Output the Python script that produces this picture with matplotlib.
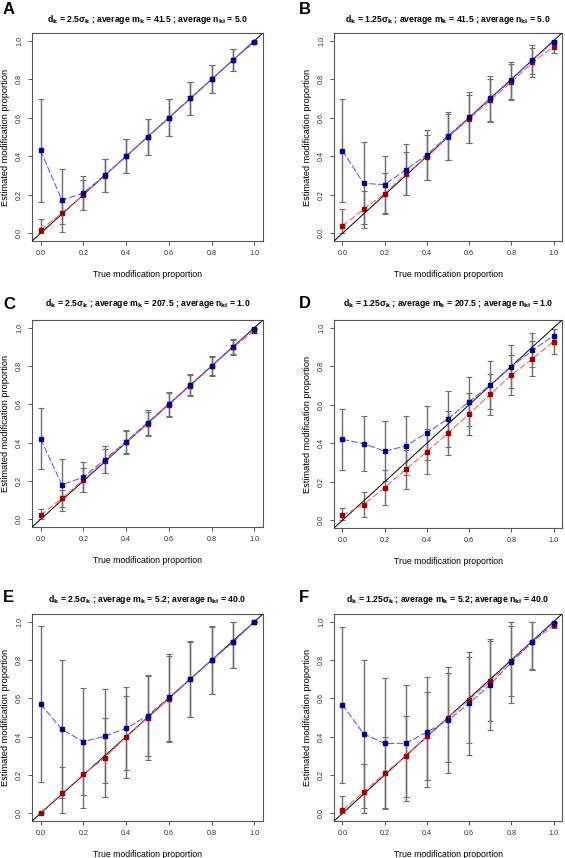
import matplotlib
matplotlib.use("Agg")
import matplotlib.pyplot as plt
import numpy as np

plt.rcParams['font.family'] = ['Liberation Sans', 'DejaVu Sans']

true_prop = [0.0, 0.1, 0.2, 0.3, 0.4, 0.5, 0.6, 0.7, 0.8, 0.9, 1.0]
ticks = [0.0, 0.2, 0.4, 0.6, 0.8, 1.0]
tick_labels = ["0.0", "0.2", "0.4", "0.6", "0.8", "1.0"]

# panel A
a_blue = [0.431, 0.171, 0.209, 0.302, 0.400, 0.500, 0.600, 0.700, 0.800, 0.900, 0.995]
a_blue_sd = [0.266, 0.164, 0.088, 0.086, 0.088, 0.096, 0.095, 0.086, 0.073, 0.058, 0.005]
a_red = [0.017, 0.105, 0.200, 0.300, 0.400, 0.500, 0.600, 0.700, 0.800, 0.900, 0.995]
a_red_sd = [0.056, 0.056, 0.077, 0.085, 0.088, 0.095, 0.095, 0.086, 0.073, 0.058, 0.005]

# panel B
b_blue = [0.429, 0.260, 0.252, 0.330, 0.408, 0.507, 0.602, 0.700, 0.795, 0.901, 0.993]
b_blue_sd = [0.267, 0.214, 0.149, 0.133, 0.130, 0.125, 0.132, 0.118, 0.096, 0.076, 0.005]
b_red = [0.038, 0.125, 0.206, 0.309, 0.394, 0.500, 0.594, 0.690, 0.785, 0.887, 0.969]
b_red_sd = [0.088, 0.095, 0.107, 0.111, 0.116, 0.120, 0.126, 0.112, 0.092, 0.073, 0.031]

# panel C
c_blue = [0.420, 0.180, 0.220, 0.312, 0.406, 0.505, 0.603, 0.702, 0.802, 0.900, 0.995]
c_blue_sd = [0.160, 0.134, 0.077, 0.070, 0.062, 0.065, 0.063, 0.055, 0.050, 0.040, 0.004]
c_red = [0.021, 0.109, 0.206, 0.305, 0.402, 0.498, 0.598, 0.698, 0.798, 0.897, 0.984]
c_red_sd = [0.034, 0.043, 0.061, 0.063, 0.060, 0.063, 0.062, 0.055, 0.050, 0.040, 0.010]

# panel D
d_blue = [0.420, 0.398, 0.359, 0.386, 0.454, 0.527, 0.616, 0.703, 0.798, 0.882, 0.959]
d_blue_sd = [0.158, 0.142, 0.154, 0.153, 0.141, 0.144, 0.128, 0.125, 0.110, 0.088, 0.035]
d_red = [0.026, 0.081, 0.170, 0.264, 0.357, 0.453, 0.552, 0.654, 0.753, 0.839, 0.928]
d_red_sd = [0.037, 0.066, 0.092, 0.103, 0.115, 0.115, 0.110, 0.105, 0.105, 0.090, 0.063]

# panel E
e_blue = [0.570, 0.438, 0.374, 0.402, 0.443, 0.509, 0.605, 0.700, 0.800, 0.894, 1.000]
e_blue_sd = [0.408, 0.360, 0.280, 0.245, 0.218, 0.212, 0.226, 0.197, 0.175, 0.134, 0.000]
e_red = [0.003, 0.104, 0.203, 0.290, 0.398, 0.497, 0.597, 0.699, 0.799, 0.894, 0.999]
e_red_sd = [0.003, 0.138, 0.177, 0.205, 0.214, 0.220, 0.226, 0.197, 0.175, 0.134, 0.000]

# panel F
f_blue = [0.567, 0.415, 0.365, 0.365, 0.424, 0.485, 0.574, 0.672, 0.788, 0.894, 0.995]
f_blue_sd = [0.407, 0.386, 0.339, 0.303, 0.287, 0.276, 0.268, 0.238, 0.213, 0.145, 0.004]
f_red = [0.016, 0.111, 0.210, 0.297, 0.402, 0.499, 0.591, 0.690, 0.796, 0.895, 0.982]
f_red_sd = [0.076, 0.148, 0.188, 0.211, 0.229, 0.232, 0.225, 0.208, 0.182, 0.140, 0.015]

panel_letters = ["A", "B", "C", "D", "E", "F"]
titles = [
    r"d$_\mathbf{k}$ = 2.5σ$_\mathbf{k}$ ; average m$_\mathbf{k}$ = 41.5 ; average n$_\mathbf{ki}$ = 5.0",
    r"d$_\mathbf{k}$ = 1.25σ$_\mathbf{k}$ ; average m$_\mathbf{k}$ = 41.5 ; average n$_\mathbf{ki}$ = 5.0",
    r"d$_\mathbf{k}$ = 2.5σ$_\mathbf{k}$ ; average m$_\mathbf{k}$ = 207.5 ; average n$_\mathbf{ki}$ = 1.0",
    r"d$_\mathbf{k}$ = 1.25σ$_\mathbf{k}$ ; average m$_\mathbf{k}$ = 207.5 ; average n$_\mathbf{ki}$ = 1.0",
    r"d$_\mathbf{k}$ = 2.5σ$_\mathbf{k}$ ; average m$_\mathbf{k}$ = 5.2; average n$_\mathbf{ki}$ = 40.0",
    r"d$_\mathbf{k}$ = 1.25σ$_\mathbf{k}$ ; average m$_\mathbf{k}$ = 5.2; average n$_\mathbf{ki}$ = 40.0",
]
panels = [
    (a_blue, a_blue_sd, a_red, a_red_sd),
    (b_blue, b_blue_sd, b_red, b_red_sd),
    (c_blue, c_blue_sd, c_red, c_red_sd),
    (d_blue, d_blue_sd, d_red, d_red_sd),
    (e_blue, e_blue_sd, e_red, e_red_sd),
    (f_blue, f_blue_sd, f_red, f_red_sd),
]

W, H = 565, 858
# axes boxes in pixels: left, right, top, bottom
boxes = [(32, 263, 33, 241), (334, 562, 33, 241),
         (32, 263, 320, 527), (334, 562, 320, 528),
         (32, 263, 614, 821), (334, 562, 614, 821)]
letter_pos = [(3, 2), (299, 2), (3, 297), (299, 296), (3, 590), (299, 590)]
title_y = [20, 20, 304, 304, 599, 600]

grey = "#555555"
fig = plt.figure(figsize=(W / 100, H / 100), dpi=100)


def add_errorbars(ax, means, sds):
    m = np.array(means)
    s = np.array(sds)
    lo = np.clip(m - s, 0, 1)
    hi = np.clip(m + s, 0, 1)
    ax.errorbar(true_prop, m, yerr=[m - lo, hi - m], fmt="none", ecolor="#6e6e6e",
                elinewidth=1.0, capsize=2, capthick=0.8, zorder=2)


for i, (blue, blue_sd, red, red_sd) in enumerate(panels):
    l, r, t, b = boxes[i]
    ax = fig.add_axes([l / W, 1 - b / H, (r - l) / W, (b - t) / H])
    ax.set_xlim(-0.04, 1.04)
    ax.set_ylim(-0.04, 1.04)

    add_errorbars(ax, blue, blue_sd)
    add_errorbars(ax, red, red_sd)
    ax.plot([-0.04, 1.04], [-0.04, 1.04], color="black", lw=0.7, zorder=3)
    ax.plot(true_prop, red, color="#ff6060", lw=0.8, dashes=(6, 2), zorder=4)
    ax.plot(true_prop, blue, color="#6060ff", lw=0.8, dashes=(6, 2), zorder=4)
    ax.plot(true_prop, red, ls="none", marker="s", ms=2.6, color="#a00000", zorder=5)
    ax.plot(true_prop, blue, ls="none", marker="s", ms=2.6, color="#00008b", zorder=5)

    ax.set_xticks(ticks)
    ax.set_xticklabels(tick_labels)
    ax.set_yticks(ticks)
    ax.set_yticklabels(tick_labels, rotation=90, va="center")
    ax.tick_params(length=3, width=0.7, color=grey, labelsize=5.2, labelcolor="#333333", pad=3.5)
    for sp in ax.spines.values():
        sp.set_color(grey)
        sp.set_linewidth(0.8)
    ax.set_xlabel("True modification proportion", fontsize=6.3, labelpad=9)
    ax.set_ylabel("Estimated modification proportion", fontsize=6.6, labelpad=4)

    fig.text(((l + r) / 2) / W, 1 - title_y[i] / H, titles[i], ha="center", va="center",
             fontsize=6.2, fontweight="bold")
    lx, ly = letter_pos[i]
    fig.text(lx / W, 1 - ly / H, panel_letters[i], ha="left", va="top",
             fontsize=12, fontweight="bold")

fig.savefig("out.png", dpi=100)
